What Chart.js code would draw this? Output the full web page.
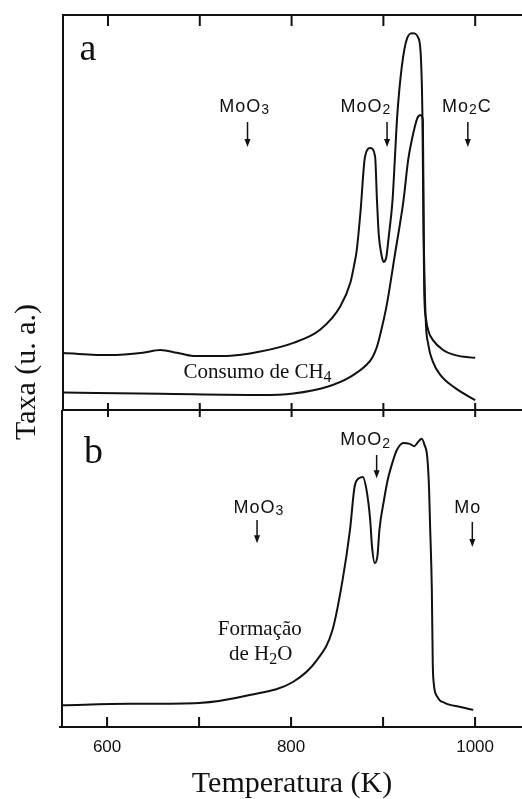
<!DOCTYPE html>
<html>
<head>
<meta charset="utf-8">
<script src="https://cdn.jsdelivr.net/npm/chart.js@4.4.0/dist/chart.umd.min.js"></script>
<style>
body{margin:0;background:#fff;}
#wrap{position:relative;width:522px;height:799px;}
#wrap canvas{position:absolute;left:0;top:0;}
</style>
</head>
<body>
<div id="wrap">
<canvas id="chartA" width="522" height="799"></canvas>
<canvas id="chartB" width="522" height="799"></canvas>
</div>
<script>
// valores: temperatura (K) x taxa (u. a., 0-100 por painel)
const tempA1 = [551, 602, 638, 657, 675, 693, 730, 766, 802, 831, 853, 864, 868, 871, 875, 880, 886, 891, 893, 895, 898, 900, 903, 906, 910, 913, 915, 920, 926, 932, 938, 941, 942.5, 943.5, 944.5, 946.5, 949, 954, 965, 978, 1000];
const rateA1 = [14.4, 13.9, 14.5, 15.2, 14.5, 13.7, 13.7, 14.8, 17.0, 20.3, 26.2, 32.2, 36.5, 40.5, 50.0, 64.1, 66.3, 64.1, 53.2, 44.3, 39.2, 37.5, 38.5, 44.3, 53.2, 65.8, 74.2, 86.8, 94.2, 95.4, 94.2, 88.6, 75.0, 50.0, 30.0, 23.0, 20.0, 17.7, 15.2, 13.9, 13.2];

const tempA2 = [551, 657, 766, 802, 839, 864, 882, 888, 893, 898, 904, 913, 918, 922, 927, 931, 937, 941, 943, 944, 946, 949, 954, 962, 978, 1000];
const rateA2 = [4.4, 4.1, 3.8, 4.2, 5.9, 8.4, 11.5, 13.3, 16.0, 20.5, 27.0, 40.0, 47.0, 53.2, 63.3, 68.4, 73.9, 74.7, 73.4, 44.8, 23.5, 16.5, 12.2, 8.9, 5.6, 2.5];

const tempB = [551, 624, 700, 755, 802, 828, 845, 856, 864, 869, 874, 878, 882, 886, 888, 891, 894, 896, 901, 905, 911, 915, 922, 929, 934, 938, 942, 945, 948, 950, 951, 953, 954, 955, 959, 967, 984, 998];
const rateB = [6.9, 7.3, 7.6, 10.1, 14.2, 21.1, 30.6, 46.4, 62.1, 75.7, 78.5, 78.9, 74.8, 65.3, 56.8, 51.7, 54.3, 62.1, 71.6, 77.9, 84.2, 87.4, 89.6, 89.3, 88.6, 89.9, 90.9, 89.0, 85.2, 75.0, 64.4, 43.2, 20.0, 14.0, 9.5, 7.6, 6.3, 5.4];

const tickValues = [600, 700, 800, 900, 1000];
const tickLabels = ['600', '', '800', '', '1000'];

// setas das fases (temperatura do texto, da seta; alturas em u. a.)
const phaseA = ['MoO_3', 'MoO_2', 'Mo_2C'];
const phaseAtextT = [749, 881, 991];
const phaseAarrowT = [752, 904, 992];
const phaseAtextY = [76.7, 76.7, 76.7];
const phaseAarrowTop = [72.9, 72.9, 72.9];
const phaseAarrowBot = [66.6, 66.6, 66.6];

const phaseB = ['MoO_2', 'MoO_3', 'Mo'];
const phaseBtextT = [881, 765, 992];
const phaseBarrowT = [893, 763, 997];
const phaseBtextY = [90.5, 69.1, 69.1];
const phaseBarrowTop = [85.8, 65.3, 64.7];
const phaseBarrowBot = [78.5, 58.0, 56.8];

const ink = '#111';
const serif = '"Liberation Serif", "Times New Roman", serif';
const sans = '"Liberation Sans", Arial, sans-serif';

function toXY(xs, ys){
    return xs.map((x, i) => ({x: x, y: ys[i]}));
}

function lineDs(xs, ys){
    return {
        data: toXY(xs, ys),
        borderColor: ink,
        borderWidth: 2,
        pointRadius: 0,
        fill: false,
        cubicInterpolationMode: 'monotone'
    };
}

// texto com subscrito: "MoO_3"
function drawChem(ctx, str, x, y, size, family, align){
    let parts = str.split(/_(\d)/);
    let subSize = Math.round(size * 0.75);
    let w = 0;
    parts.forEach((p, i) => {
        ctx.font = (i % 2 ? subSize : size) + 'px ' + family;
        w += ctx.measureText(p).width;
    });
    let cx = align === 'left' ? x : x - w / 2;
    ctx.textAlign = 'left';
    parts.forEach((p, i) => {
        ctx.font = (i % 2 ? subSize : size) + 'px ' + family;
        ctx.fillText(p, cx, i % 2 ? y + size * 0.2 : y);
        cx += ctx.measureText(p).width;
    });
}

function drawArrow(ctx, px, top, bot){
    ctx.beginPath();
    ctx.moveTo(px, top);
    ctx.lineTo(px, bot - 6);
    ctx.stroke();
    ctx.beginPath();
    ctx.moveTo(px - 3, bot - 8);
    ctx.lineTo(px + 3, bot - 8);
    ctx.lineTo(px, bot);
    ctx.closePath();
    ctx.fill();
}

function drawPhases(chart, names, textT, arrowT, textY, arrowTop, arrowBot){
    const {ctx, scales: {x, y}} = chart;
    ctx.save();
    ctx.fillStyle = ink;
    ctx.strokeStyle = ink;
    ctx.lineWidth = 1.5;
    ctx.textBaseline = 'middle';
    ctx.letterSpacing = '1px';
    names.forEach((n, i) => {
        drawChem(ctx, n, x.getPixelForValue(textT[i]), y.getPixelForValue(textY[i]), 18, sans, 'center');
        drawArrow(ctx, x.getPixelForValue(arrowT[i]), y.getPixelForValue(arrowTop[i]), y.getPixelForValue(arrowBot[i]));
    });
    ctx.restore();
}

const panelA = {
    id: 'panelA',
    afterDraw(chart){
        const {ctx, chartArea: ca, scales: {x, y}} = chart;
        ctx.save();
        ctx.strokeStyle = ink;
        ctx.lineWidth = 2;
        ctx.beginPath();
        ctx.moveTo(ca.left, ca.bottom);
        ctx.lineTo(ca.left, ca.top);
        ctx.lineTo(ca.right, ca.top);
        ctx.moveTo(ca.left, ca.bottom);
        ctx.lineTo(ca.right, ca.bottom);
        tickValues.forEach(t => {
            let px = x.getPixelForValue(t);
            ctx.moveTo(px, ca.top);
            ctx.lineTo(px, ca.top + 11);
            ctx.moveTo(px, ca.bottom - 7);
            ctx.lineTo(px, ca.bottom + 7);
        });
        ctx.stroke();
        ctx.fillStyle = ink;
        ctx.textBaseline = 'alphabetic';
        ctx.textAlign = 'left';
        ctx.font = '38px ' + serif;
        ctx.fillText('a', x.getPixelForValue(569), y.getPixelForValue(88.6));
        drawChem(ctx, 'Consumo de CH_4', x.getPixelForValue(763), y.getPixelForValue(8.1), 21, serif, 'center');
        ctx.restore();
        drawPhases(chart, phaseA, phaseAtextT, phaseAarrowT, phaseAtextY, phaseAarrowTop, phaseAarrowBot);
    }
};

const panelB = {
    id: 'panelB',
    afterDraw(chart){
        const {ctx, chartArea: ca, scales: {x, y}} = chart;
        ctx.save();
        ctx.strokeStyle = ink;
        ctx.lineWidth = 2;
        ctx.beginPath();
        ctx.moveTo(ca.left, ca.top);
        ctx.lineTo(ca.left, ca.bottom);
        ctx.moveTo(ca.left - 3, ca.bottom);
        ctx.lineTo(ca.right, ca.bottom);
        tickValues.forEach(t => {
            let px = x.getPixelForValue(t);
            ctx.moveTo(px, ca.bottom);
            ctx.lineTo(px, ca.bottom - 10);
        });
        ctx.stroke();
        ctx.fillStyle = ink;
        ctx.textBaseline = 'alphabetic';
        ctx.textAlign = 'left';
        ctx.font = '38px ' + serif;
        ctx.fillText('b', x.getPixelForValue(575), y.getPixelForValue(83.3));
        ctx.font = '21px ' + serif;
        ctx.textAlign = 'center';
        ctx.fillText('Formação', x.getPixelForValue(766), y.getPixelForValue(29.0));
        drawChem(ctx, 'de H_2O', x.getPixelForValue(767), y.getPixelForValue(21.1), 21, serif, 'center');
        // titulo do eixo y, comum aos dois paineis
        ctx.translate(27, 372);
        ctx.rotate(-Math.PI / 2);
        ctx.textAlign = 'center';
        ctx.textBaseline = 'middle';
        ctx.font = '30px ' + serif;
        ctx.fillText('Taxa (u. a.)', 0, 0);
        ctx.restore();
        drawPhases(chart, phaseB, phaseBtextT, phaseBarrowT, phaseBtextY, phaseBarrowTop, phaseBarrowBot);
    }
};

const common = {
    responsive: false,
    animation: false,
    devicePixelRatio: 1,
    plugins: {legend: {display: false}, tooltip: {enabled: false}}
};

new Chart(document.getElementById('chartA').getContext('2d'), {
    type: 'line',
    data: {datasets: [lineDs(tempA1, rateA1), lineDs(tempA2, rateA2)]},
    options: Object.assign({}, common, {
        layout: {padding: {left: 63, top: 15, right: 0, bottom: 389}},
        scales: {
            x: {type: 'linear', min: 551, max: 1051, display: false},
            y: {min: 0, max: 100, display: false}
        }
    }),
    plugins: [panelA]
});

new Chart(document.getElementById('chartB').getContext('2d'), {
    type: 'line',
    data: {datasets: [lineDs(tempB, rateB)]},
    options: Object.assign({}, common, {
        layout: {padding: {left: 62, top: 410, right: 0, bottom: 0}},
        scales: {
            x: {
                type: 'linear', min: 551, max: 1051,
                afterBuildTicks: s => { s.ticks = tickValues.map(v => ({value: v})); },
                afterFit: s => { s.height = 72; },
                grid: {display: false, drawTicks: false},
                border: {display: false},
                ticks: {
                    callback: v => tickLabels[tickValues.indexOf(v)] || '',
                    color: ink,
                    font: {family: sans, size: 17},
                    padding: 10,
                    maxRotation: 0,
                    autoSkip: false
                },
                title: {display: true, text: 'Temperatura (K)', color: ink, font: {family: serif, size: 30, lineHeight: 1}, padding: {top: 0, bottom: 0}}
            },
            y: {min: 0, max: 100, display: false}
        }
    }),
    plugins: [panelB]
});
</script>
</body>
</html>
